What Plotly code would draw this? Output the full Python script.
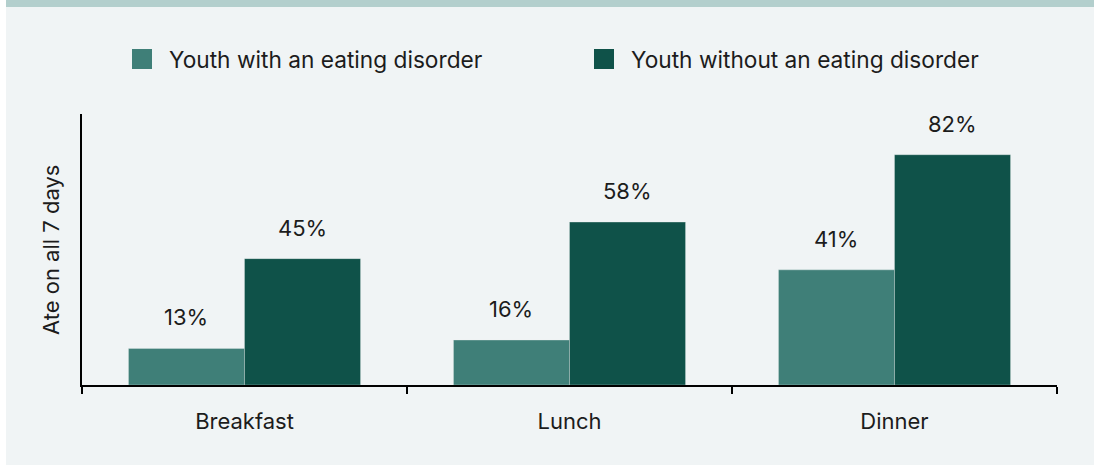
import plotly.graph_objects as go

# Share of youth who ate each meal on all 7 days
meals = ["Breakfast", "Lunch", "Dinner"]
with_ed = [13, 16, 41]
without_ed = [45, 58, 82]
series_names = ["Youth with an eating disorder", "Youth without an eating disorder"]
y_title = "Ate on all 7 days"

LIGHT = "#3f7f78"
DARK = "#0f5249"
BG = "#f0f4f5"
BAND = "#b3cfcd"
INK = "#1c1c1c"
FONT = "Inter"
FS = 22

W, H = 1094, 465
L, R, T, B = 82, 37, 114, 80
PW, PH = W - L - R, H - T - B


def px_x(x):
    return (x - L) / PW


def px_y(y):
    return (H - B - y) / PH


fig = go.Figure()
for name, vals, col in [(series_names[0], with_ed, LIGHT), (series_names[1], without_ed, DARK)]:
    fig.add_trace(go.Bar(
        x=meals, y=vals, name=name,
        marker=dict(color=col, line=dict(color="rgba(240,244,245,0.5)", width=0.6)),
        showlegend=False, hoverinfo="skip",
    ))

# value labels above each bar
for i, m in enumerate(meals):
    for vals, off in [(with_ed, -0.1786), (without_ed, 0.1786)]:
        fig.add_annotation(
            x=i + off, y=vals[i], xref="x", yref="y",
            text=f"{vals[i]}%", showarrow=False,
            yanchor="middle", yshift=31,
            font=dict(family=FONT, size=FS, color=INK),
        )

shapes = [
    # thin band along the top
    dict(type="rect", xref="paper", yref="paper",
         x0=px_x(0), x1=px_x(W), y0=px_y(7), y1=px_y(0),
         fillcolor=BAND, line=dict(width=0), layer="below"),
    dict(type="rect", xref="paper", yref="paper",
         x0=px_x(0), x1=px_x(6), y0=px_y(H), y1=px_y(0),
         fillcolor="#ffffff", line=dict(width=0), layer="below"),
]

# legend drawn as swatches with labels
legend_items = [(132, LIGHT, series_names[0]), (594, DARK, series_names[1])]
for x0, col, label in legend_items:
    shapes.append(dict(type="rect", xref="paper", yref="paper",
                       x0=px_x(x0), x1=px_x(x0 + 20), y0=px_y(69), y1=px_y(49),
                       fillcolor=col, line=dict(width=0)))
    fig.add_annotation(x=px_x(x0 + 35), y=px_y(59), xref="paper", yref="paper",
                       text=label, showarrow=False, xanchor="left", yanchor="middle",
                       font=dict(family=FONT, size=22.7, color=INK))

fig.add_annotation(x=px_x(51), y=px_y(250), xref="paper", yref="paper",
                   text=y_title, showarrow=False, textangle=-90,
                   xanchor="center", yanchor="middle",
                   font=dict(family=FONT, size=FS, color=INK))

fig.update_layout(
    width=W, height=H,
    margin=dict(l=L, r=R, t=T, b=B),
    paper_bgcolor=BG, plot_bgcolor=BG,
    barmode="group", bargap=0.286, bargroupgap=0,
    shapes=shapes,
    font=dict(family=FONT, size=FS, color=INK),
)
fig.update_xaxes(
    showline=True, linecolor="#000000", linewidth=2,
    ticks="outside", tickson="boundaries", ticklen=7, tickwidth=2, tickcolor="#000000",
    ticklabelstandoff=16,
    tickfont=dict(family=FONT, size=FS, color=INK),
    showgrid=False, zeroline=False, fixedrange=True,
)
fig.update_yaxes(
    range=[0, 96.5], showline=True, linecolor="#000000", linewidth=2,
    showticklabels=False, ticks="", showgrid=False, zeroline=False, fixedrange=True,
)

fig.write_html("out.html", config={"displayModeBar": False})
